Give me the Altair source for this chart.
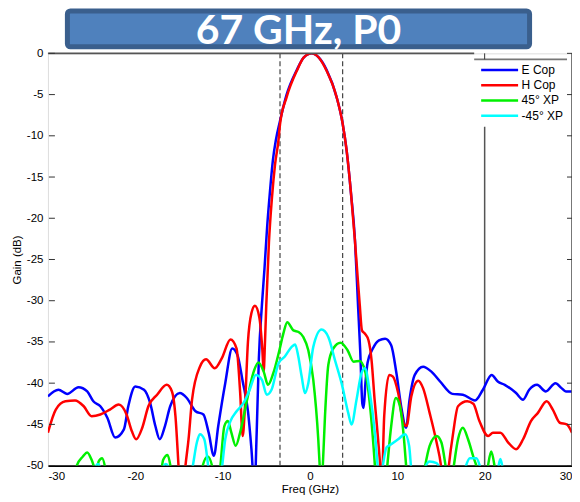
import altair as alt
import pandas as pd

# ---------------- data ----------------
series_names = ["E Cop", "H Cop", "45° XP", "-45° XP"]
series_colors = ["#0000ff", "#ff0000", "#00f000", "#00ffff"]

e_freq = [-30.0, -28.8, -27.8, -26.5, -25.5, -24.8, -24.0, -23.2, -22.3, -21.3, -20.8, -20.0,
          -19.0, -18.3, -17.7, -17.2, -16.6, -16.0, -14.9, -14.1, -13.1, -12.2, -11.6, -11.0,
          -10.5, -9.7, -8.9, -8.3, -7.7, -7.1, -6.7, -6.35, -6.1, -5.85, -5.5,
          -5.2, -4.9, -4.6, -4.25, -3.9, -3.45, -2.7, -1.5, -0.7, 0.2, 1.0, 1.9, 3.05, 3.74,
          4.2, 4.7, 5.15, 5.5, 5.75, 6.0, 6.15, 6.35, 6.6, 7.2, 7.9, 8.6, 9.3, 9.9, 10.5,
          11.0, 11.4, 12.0, 12.95, 13.9, 14.9, 16.3, 17.5, 18.9, 19.8, 20.8, 21.5, 22.3,
          23.6, 24.4, 25.1, 26.0, 27.0, 28.1, 28.8, 29.3, 30.0]
e_gain = [-41.6, -40.8, -41.3, -40.5, -41.0, -42.2, -42.8, -44.2, -46.6, -45.6, -42.8, -40.4,
          -40.8, -42.4, -45.2, -46.8, -45.2, -42.8, -41.2, -41.8, -43.4, -43.8, -46.0, -48.8,
          -45.2, -40.0, -35.8, -36.6, -39.8, -43.4, -48.0, -53.0, -46.0, -37.0, -30.5,
          -26.0, -21.0, -17.0, -13.0, -10.5, -8.3, -5.1, -2.0, -0.5, 0.0, -0.5, -2.0, -5.3, -8.5,
          -11.8, -17.0, -22.6, -30.5, -36.0, -42.5, -43.0, -40.0, -37.5, -35.8, -34.8, -34.6,
          -35.4, -38.8, -43.2, -45.4, -42.0, -39.0, -38.0, -38.6, -39.8, -41.3, -41.4, -42.1,
          -40.8, -39.0, -39.8, -40.2, -41.2, -42.0, -40.8, -40.2, -41.0, -40.0, -40.6, -41.0,
          -41.0]

h_freq = [-30.0, -29.1, -28.0, -26.9, -25.9, -25.0, -24.0, -22.9, -21.9, -21.0, -20.4, -19.9,
          -19.2, -18.5, -17.5, -16.4, -15.8, -15.4, -15.05, -14.7, -14.3, -13.9, -13.5, -12.6,
          -11.9, -10.9, -10.1, -9.1, -8.4, -8.0, -7.7, -7.45, -7.1, -6.7, -6.3, -5.8, -5.45,
          -5.3, -5.15, -5.0, -4.7, -4.35, -4.0, -3.6, -3.43, -2.67, -1.5, -0.7, 0.2, 1.0, 1.9,
          3.05, 3.74, 4.2, 4.7, 5.14, 5.45, 5.7, 5.95, 6.3, 6.7, 7.05, 7.4, 7.8, 8.1, 8.2, 8.5,
          9.07, 9.5, 10.1, 10.7, 11.05, 11.6, 12.4, 12.95, 13.7, 14.5, 15.0, 15.45, 15.9, 16.4,
          16.95, 18.0, 18.7, 19.4, 20.4, 20.95, 21.8, 22.7, 23.6, 24.4, 25.3, 26.1, 27.1, 27.8,
          28.6, 29.4, 30.0]
h_gain = [-46.0, -43.2, -42.2, -42.1, -42.8, -44.0, -43.8, -43.2, -42.6, -43.8, -45.8, -46.8,
          -45.4, -42.8, -41.4, -40.2, -41.0, -44.0, -50.0, -56.0, -50.5, -46.8, -42.0, -38.0,
          -37.1, -38.2, -37.0, -34.7, -35.8, -41.0, -46.4, -43.0, -35.0, -31.5, -30.6, -32.0,
          -36.0, -38.6, -35.0, -30.5, -23.0, -17.5, -13.5, -10.5, -8.6, -5.3, -2.1, -0.5, 0.0,
          -0.5, -2.1, -5.3, -8.5, -11.8, -17.0, -22.6, -27.0, -30.5, -33.6, -34.0, -34.8, -37.2,
          -42.0, -46.8, -51.0, -53.0, -44.0, -39.0, -39.2, -41.2, -44.8, -45.2, -41.6, -39.7,
          -40.6, -43.6, -47.2, -50.0, -55.0, -50.0, -46.0, -42.8, -42.2, -42.5, -44.6, -46.4,
          -46.0, -46.0, -47.2, -48.0, -46.8, -44.6, -43.6, -42.2, -43.2, -44.8, -45.0, -46.0]

xp45_freq = [-30.0, -27.2, -26.7, -26.0, -25.5, -25.0, -24.6, -24.4, -24.2, -23.8, -23.4, -22.8,
             -20.0, -17.4, -16.8, -16.3, -15.9, -15.3, -13.0, -12.4, -11.7, -11.1, -10.7, -10.3,
             -9.8, -9.4, -9.0, -8.5, -8.0, -7.2, -6.5, -5.9, -5.3, -4.8, -4.2, -3.5, -3.05,
             -2.6, -1.9, -1.3, -0.76, -0.19, 0.38, 0.95, 1.14, 1.3, 1.45, 1.72, 2.1, 2.67, 3.5,
             4.3, 5.0, 5.7, 6.3, 6.9, 7.3, 7.5, 8.1, 8.76, 9.3, 9.83, 10.3, 10.7, 11.05, 12.0,
             13.1, 13.7, 14.5, 15.05, 15.6, 16.0, 16.4, 16.95, 17.5, 18.1, 18.7, 19.2, 19.8,
             20.3, 20.75, 21.2, 22.0, 30.0]
xp45_gain = [-58.0, -55.0, -50.0, -48.9, -48.4, -49.3, -50.5, -51.0, -49.5, -49.1, -50.5, -56.0,
             -60.0, -54.0, -49.3, -48.7, -50.5, -56.0, -56.0, -50.5, -48.9, -50.5, -53.0, -50.5,
             -45.2, -44.6, -46.0, -47.6, -46.0, -42.0, -38.8, -37.5, -38.6, -40.2, -38.8, -36.0,
             -34.0, -32.6, -33.6, -33.8, -34.4, -36.0, -39.6, -46.8, -50.5, -53.0, -50.5, -44.0,
             -37.8, -35.8, -35.1, -36.0, -37.4, -37.3, -38.5, -43.0, -48.0, -51.0, -57.0, -51.0,
             -45.2, -41.8, -42.8, -46.0, -50.5, -58.0, -50.5, -47.6, -46.4, -47.2, -50.5, -53.0,
             -50.5, -46.8, -45.4, -46.8, -48.9, -50.5, -53.0, -50.5, -48.3, -50.5, -57.0, -60.0]

xpm45_freq = [-30.0, -25.2, -24.6, -24.3, -23.9, -23.0, -17.5, -16.8, -16.5, -16.2, -15.5,
              -13.5, -12.95, -12.6, -12.1, -11.6, -10.9, -10.1, -9.7, -9.1, -8.4, -7.6, -6.9,
              -6.2, -5.5, -4.95, -4.4, -3.6, -2.9, -2.1, -1.7, -1.33, -0.95, -0.57, -0.19, 0.38,
              1.33, 2.1, 2.86, 3.62, 4.38, 4.76, 5.33, 5.9, 6.3, 6.86, 7.43, 7.8, 8.05, 8.3,
              8.76, 9.3, 10.1, 10.9, 11.35, 11.6, 12.3, 13.1, 13.7, 14.5, 14.9, 16.0, 17.7,
              18.3, 19.05, 19.6, 20.5, 21.5, 21.8, 22.1, 23.0, 30.0]
xpm45_gain = [-60.0, -53.0, -50.3, -49.8, -50.5, -56.0, -55.0, -50.2, -49.8, -50.2, -55.0,
              -50.5, -47.2, -46.2, -46.8, -50.5, -56.0, -50.5, -46.8, -44.6, -43.4, -42.4, -40.8,
              -39.0, -39.6, -41.4, -40.8, -37.6, -36.8, -35.6, -35.3, -36.8, -39.2, -41.2, -40.0,
              -35.6, -33.5, -34.4, -37.2, -40.0, -43.6, -45.0, -42.0, -38.8, -38.2, -41.2, -46.0,
              -50.5, -52.0, -50.3, -47.8, -47.4, -46.8, -46.2, -47.6, -50.5, -55.0, -50.5, -49.5,
              -49.7, -50.5, -56.0, -50.5, -49.1, -49.1, -50.5, -53.0, -50.5, -49.2, -50.5, -56.0,
              -60.0]

marker_freq = [-3.43, 3.74]          # dashed band markers
ref_freq = [20.0]                    # solid reference line
ref_top = [-8.9]
y_ticks = list(range(-50, 1, 5))
x_ticks = list(range(-30, 31, 10))
title_text = "67 GHz, P0"

# ---------------- frames ----------------
def frame(f, g, name):
    return pd.DataFrame({"f": f, "g": g, "series": name})

dfs = [frame(e_freq, e_gain, series_names[0]),
       frame(h_freq, h_gain, series_names[1]),
       frame(xp45_freq, xp45_gain, series_names[2]),
       frame(xpm45_freq, xpm45_gain, series_names[3])]

W, H = 525, 413
FONT = "Liberation Sans"

xs = alt.Scale(domain=[-30, 30], nice=False, zero=False)
ys = alt.Scale(domain=[-50, 0], nice=False, zero=False)
cs = alt.Scale(domain=series_names, range=series_colors)

x_axis = alt.Axis(values=x_ticks, title="Freq (GHz)", ticks=False, labelPadding=5,
                  domainColor="black", domainWidth=1.6, labelFont=FONT, labelFontSize=11.5,
                  labelColor="black", titleFont=FONT, titleFontSize=11.5, titleFontWeight="normal",
                  titleColor="black", titlePadding=1, grid=False,
                  labelExpr="'' + datum.value")
y_axis = alt.Axis(values=y_ticks, title="Gain (dB)", ticks=False, domain=False, labelPadding=5,
                  labelFont=FONT, labelFontSize=11.5, labelColor="black", titleFont=FONT,
                  titleFontSize=11.5, titleFontWeight="normal", titleColor="black",
                  titlePadding=4, grid=False, labelExpr="'' + datum.value")

X = alt.X("f:Q", scale=xs, axis=x_axis)
Y = alt.Y("g:Q", scale=ys, axis=y_axis)
C = alt.Color("series:N", scale=cs, legend=None)

layers = []

# dashed markers
mk = pd.DataFrame({"f": marker_freq, "top": [0.0] * len(marker_freq), "bot": [-50.0] * len(marker_freq)})
layers.append(alt.Chart(mk).mark_rule(color="#444444", strokeWidth=1.2, strokeDash=[5, 3]).encode(
    x=X, y=alt.Y("top:Q", scale=ys, axis=y_axis), y2="bot:Q"))

# solid reference line at 20 GHz
rf = pd.DataFrame({"f": ref_freq, "top": ref_top, "bot": [-50.0]})
layers.append(alt.Chart(rf).mark_rule(color="#555555", strokeWidth=1.5).encode(
    x=X, y=alt.Y("top:Q", scale=ys, axis=y_axis), y2="bot:Q"))

for df in dfs:
    layers.append(alt.Chart(df).mark_line(clip=True, strokeWidth=2.5, interpolate="monotone").encode(
        x=X, y=Y, color=C))

# frame: top border, right border, legend top line, inward ticks
frame_df = pd.DataFrame({"k": [0]})
layers.append(alt.Chart(frame_df).mark_rule(color="#555555", strokeWidth=1.6).encode(
    x=alt.value(0), x2=alt.value(427), y=alt.value(0)))
layers.append(alt.Chart(frame_df).mark_rule(color="#777777", strokeWidth=1.6).encode(
    x=alt.value(427), x2=alt.value(520), y=alt.value(6)))
layers.append(alt.Chart(frame_df).mark_rule(color="#555555", strokeWidth=1.6).encode(
    x=alt.value(W), y=alt.value(0), y2=alt.value(H)))

tk = pd.DataFrame({"g": y_ticks})
layers.append(alt.Chart(tk).mark_rule(color="#333333", strokeWidth=1).encode(
    y=alt.Y("g:Q", scale=ys, axis=y_axis), x=alt.value(1), x2=alt.value(7)))
layers.append(alt.Chart(tk).mark_rule(color="#333333", strokeWidth=1).encode(
    y=alt.Y("g:Q", scale=ys, axis=y_axis), x=alt.value(W - 5), x2=alt.value(W)))
tt = pd.DataFrame({"f": ref_freq})
layers.append(alt.Chart(tt).mark_rule(color="#333333", strokeWidth=1).encode(
    x=X, y=alt.value(0), y2=alt.value(6)))

# legend (drawn inside the plot, top-right)
leg = pd.DataFrame({"series": series_names, "i": list(range(len(series_names)))})
leg_base = alt.Chart(leg).transform_calculate(py="16.6 + 15.3 * datum.i")
layers.append(leg_base.mark_rule(strokeWidth=2.5).encode(
    x=alt.value(434), x2=alt.value(471), y=alt.Y("py:Q", scale=None, axis=None),
    color=C))
layers.append(leg_base.mark_text(font=FONT, fontSize=12, color="black", align="left",
                                 baseline="middle").encode(
    x=alt.value(474.5), y=alt.Y("py:Q", scale=None, axis=None), text="series:N"))

# title box
tdf = pd.DataFrame({"t": [title_text]})
layers.append(alt.Chart(tdf).mark_rect(fill="#4f81bd", stroke="#3a5f8d", strokeWidth=5,
                                       cornerRadius=3).encode(
    x=alt.value(19.5), x2=alt.value(482.5), y=alt.value(-42.5), y2=alt.value(-6.5)))
layers.append(alt.Chart(tdf).mark_text(font="Lato", fontWeight="bold", fontSize=41, color="white",
                                       align="center", baseline="alphabetic").encode(
    text="t:N", x=alt.value(251), y=alt.value(-9.7)))

chart = alt.layer(*layers).properties(
    width=W, height=H,
    autosize=alt.AutoSizeParams(type="none"),
    padding={"left": 40, "top": 45, "right": 0, "bottom": 32},
).configure_view(stroke=None).configure(background="white")

chart.save("out.html", embed_options={"renderer": "svg", "actions": False})
